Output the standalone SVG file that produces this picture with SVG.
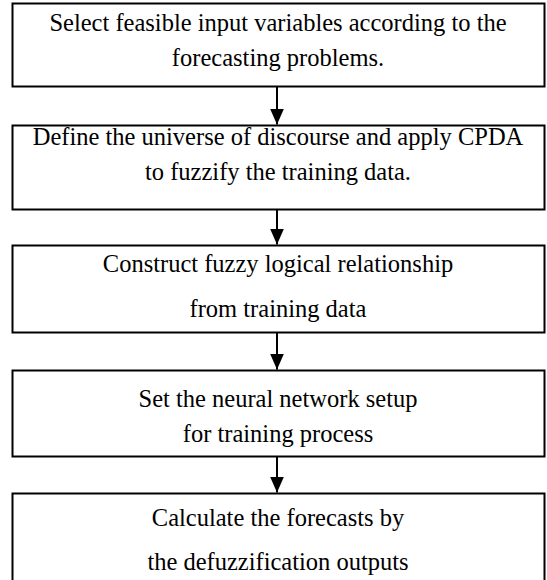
<svg xmlns="http://www.w3.org/2000/svg" width="547" height="580" viewBox="0 0 547 580">
  <style>
    .box { fill: #ffffff; stroke: #000000; stroke-width: 2; }
    .label { font-family: "Liberation Serif", "Times New Roman", serif; font-size: 24.5px; fill: #000000; text-anchor: middle; }
    .link { stroke: #000000; stroke-width: 2; fill: none; }
  </style>
  <defs>
    <!-- filled triangular head, tip at the end of the line -->
    <marker id="arrowhead" markerUnits="userSpaceOnUse" markerWidth="16" markerHeight="14" refX="16" refY="7" orient="auto" viewBox="0 0 16 14">
      <path d="M0,0 L16,7 L0,14 Z" fill="#000000"/>
    </marker>
  </defs>
  <rect width="547" height="580" fill="#ffffff"/>

  <g id="step-select-inputs">
    <rect class="box" x="12.5" y="3.5" width="532" height="83"/>
    <text class="label" x="278" y="31">Select feasible input variables according to the</text>
    <text class="label" x="278" y="66">forecasting problems.</text>
  </g>

  <g id="step-fuzzify">
    <rect class="box" x="12.5" y="125.5" width="532" height="84"/>
    <text class="label" x="278" y="145">Define the universe of discourse and apply CPDA</text>
    <text class="label" x="278" y="180">to fuzzify the training data.</text>
  </g>

  <g id="step-flr">
    <rect class="box" x="12.5" y="245.5" width="532" height="87"/>
    <text class="label" x="278" y="272">Construct fuzzy logical relationship</text>
    <text class="label" x="278" y="317">from training data</text>
  </g>

  <g id="step-network">
    <rect class="box" x="12.5" y="370.5" width="532" height="86"/>
    <text class="label" x="278" y="407">Set the neural network setup</text>
    <text class="label" x="278" y="442">for training process</text>
  </g>

  <g id="step-forecast">
    <rect class="box" x="12.5" y="493.5" width="532" height="100"/>
    <text class="label" x="278" y="526">Calculate the forecasts by</text>
    <text class="label" x="278" y="570">the defuzzification outputs</text>
  </g>

  <g id="connectors">
    <line class="link" x1="277" y1="87" x2="277" y2="124.5" marker-end="url(#arrowhead)"/>
    <line class="link" x1="277" y1="210" x2="277" y2="244.5" marker-end="url(#arrowhead)"/>
    <line class="link" x1="277" y1="333" x2="277" y2="369.5" marker-end="url(#arrowhead)"/>
    <line class="link" x1="277" y1="457" x2="277" y2="492.5" marker-end="url(#arrowhead)"/>
  </g>
</svg>
